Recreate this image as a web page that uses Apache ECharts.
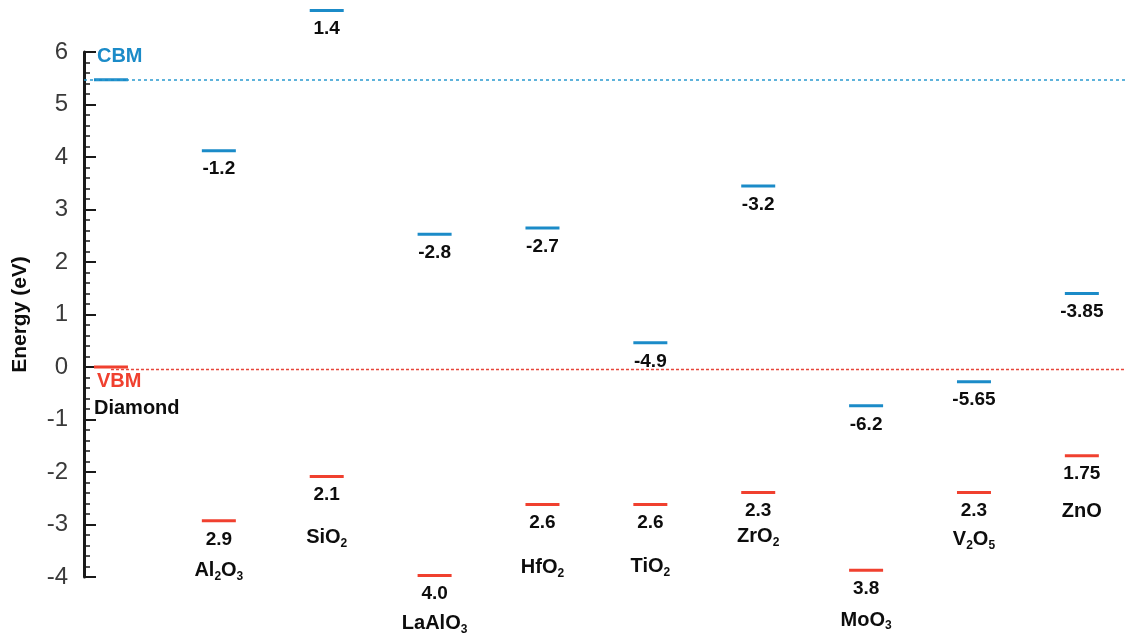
<!DOCTYPE html>
<html>
<head>
<meta charset="utf-8">
<title>Band alignment of oxides on diamond</title>
<script src="https://cdn.jsdelivr.net/npm/echarts@6/dist/echarts.min.js"></script>
<style>
  html, body { margin: 0; padding: 0; background: #ffffff; }
  #chart { width: 1125px; height: 638px; }
</style>
</head>
<body>
<div id="chart"></div>
<script>
// Materials, in the order they appear along the horizontal axis
const materials = ['Diamond', 'Al2O3', 'SiO2', 'LaAlO3', 'HfO2', 'TiO2', 'ZrO2', 'MoO3', 'V2O5', 'ZnO'];

// Conduction band minimum of each material (eV, diamond VBM = 0)
const cbm = [5.47, 4.12, 6.79, 2.53, 2.65, 0.46, 3.45, -0.74, -0.28, 1.40];
// Valence band maximum of each material (eV)
const vbm = [0, -2.93, -2.085, -3.97, -2.62, -2.62, -2.39, -3.87, -2.39, -1.69];

// Conduction and valence band offsets relative to diamond
const cbOffsets = ['', '-1.2', '1.4', '-2.8', '-2.7', '-4.9', '-3.2', '-6.2', '-5.65', '-3.85'];
const vbOffsets = ['', '2.9', '2.1', '4.0', '2.6', '2.6', '2.3', '3.8', '2.3', '1.75'];

// Reference levels of diamond drawn across the whole chart
const diamondCBM = 5.47;
const diamondVBM = -0.04;

// Energy axis
const yMin = -4, yMax = 6, yStep = 1;

// Layout: how far below the valence level each material name sits (px)
const nameDrop = [41, 50, 61, 48, 63, 62, 44, 50, 47, 56];

const BLUE = '#1b8bc8';
const RED = '#f0402f';
const INK = '#0d0d0d';
const FONT = '"Liberation Sans", Arial, Helvetica, sans-serif';

const xMin = -0.25, xMax = 9.4;

// "Al2O3" -> rich text with subscripted digits
function formula(name) {
  return name.replace(/(\D+)/g, '{n|$1}').replace(/(\d)/g, '{s|$1}');
}

const richSub = {
  n: { fontSize: 20, fontWeight: 'bold', color: INK, fontFamily: FONT, lineHeight: 24, verticalAlign: 'middle' },
  s: { fontSize: 12, fontWeight: 'bold', color: INK, fontFamily: FONT, lineHeight: 12, verticalAlign: 'bottom' }
};

const valueLabel = {
  show: true,
  position: 'bottom',
  distance: 7,
  fontSize: 19,
  fontWeight: 'bold',
  color: INK,
  fontFamily: FONT,
  lineHeight: 20
};

const cbmData = cbm.map((v, i) => {
  const item = { value: [i, v], label: { formatter: cbOffsets[i] } };
  if (i === 0) {
    item.label = {
      formatter: 'CBM', position: 'inside', align: 'left', offset: [-14, -23],
      color: BLUE, fontSize: 20, distance: 0
    };
  }
  return item;
});

const vbmData = vbm.map((v, i) => {
  const item = { value: [i, v], label: { formatter: vbOffsets[i] } };
  if (i === 0) {
    item.label = {
      formatter: 'VBM', position: 'inside', align: 'left', offset: [-14, 14],
      color: RED, fontSize: 20, distance: 0
    };
  }
  return item;
});

const nameData = vbm.map((v, i) => {
  const item = {
    value: [i, v],
    label: { formatter: formula(materials[i]), offset: [0, nameDrop[i]] }
  };
  if (i === 0) {
    item.label.align = 'left';
    item.label.offset = [-17, nameDrop[i]];
  }
  return item;
});

const chart = echarts.init(document.getElementById('chart'), null, { renderer: 'canvas' });

chart.setOption({
  animation: false,
  backgroundColor: '#ffffff',
  grid: { left: 84, right: 0, top: 52, bottom: 61, containLabel: false },
  xAxis: {
    type: 'value',
    min: xMin,
    max: xMax,
    show: false
  },
  yAxis: {
    type: 'value',
    min: yMin,
    max: yMax,
    interval: yStep,
    name: 'Energy (eV)',
    nameLocation: 'middle',
    nameGap: 53,
    nameTextStyle: { fontSize: 21, fontWeight: 'bold', color: INK, fontFamily: FONT },
    axisLine: { show: true, onZero: false, lineStyle: { color: '#1a1a1a', width: 3 } },
    axisTick: { show: true, inside: true, length: 12, lineStyle: { color: '#1a1a1a', width: 2 } },
    minorTick: { show: true, splitNumber: 5, length: 6, lineStyle: { color: '#1a1a1a', width: 1.5 } },
    axisLabel: { fontSize: 24, color: '#3a3a3a', fontFamily: FONT, margin: 16, padding: [8, 0, 0, 0] },
    splitLine: { show: false }
  },
  series: [
    {
      name: 'CBM',
      type: 'scatter',
      clip: false,
      symbol: 'rect',
      symbolSize: [34, 3],
      itemStyle: { color: BLUE, opacity: 1 },
      label: valueLabel,
      data: cbmData,
      z: 3,
      markLine: {
        silent: true,
        symbol: 'none',
        label: { show: false },
        lineStyle: { color: '#2a9ad0', type: [3, 3], width: 1.5, opacity: 1 },
        data: [{ yAxis: diamondCBM }]
      }
    },
    {
      name: 'VBM',
      type: 'scatter',
      clip: false,
      symbol: 'rect',
      symbolSize: [34, 3],
      itemStyle: { color: RED, opacity: 1 },
      label: valueLabel,
      data: vbmData,
      z: 3,
      markLine: {
        silent: true,
        symbol: 'none',
        label: { show: false },
        lineStyle: { color: '#e8463b', type: [3, 2], width: 1.4, opacity: 1 },
        data: [[{ coord: [0, diamondVBM] }, { coord: [xMax, diamondVBM] }]]
      }
    },
    {
      name: 'Material',
      type: 'scatter',
      clip: false,
      symbol: 'rect',
      symbolSize: [34, 3],
      itemStyle: { color: 'rgba(0,0,0,0)', opacity: 1 },
      label: {
        show: true,
        position: 'inside',
        distance: 0,
        rich: richSub
      },
      data: nameData,
      z: 4
    }
  ]
});
</script>
</body>
</html>
